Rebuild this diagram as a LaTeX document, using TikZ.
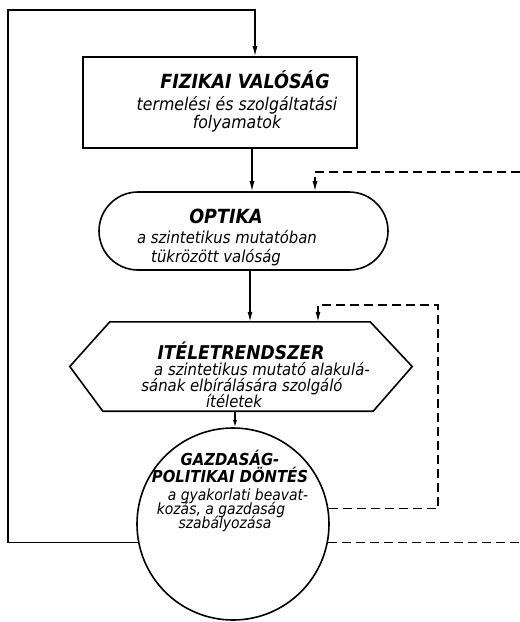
\documentclass[tikz,border=0pt]{standalone}
\usepackage{fontspec}
\setmainfont{DejaVu Sans Condensed}
\usetikzlibrary{arrows.meta,shapes.misc}
\begin{document}
\begin{tikzpicture}[x=1pt,y=-1pt,
  frame/.style={draw,line width=1.6pt,inner sep=0pt},
  conn/.style={line width=1.2pt},
  arr/.style={conn,-{Latex[length=10pt,width=5pt]}},
  sarr/.style={conn,-{Latex[length=7pt,width=4pt]}},
  dsh/.style={dash pattern=on 9pt off 5pt},
  ttl/.style={font=\bfseries\itshape\fontsize{#1}{#1}\selectfont,anchor=base,inner sep=0pt,text depth=0pt},
  sub/.style={font=\itshape\fontsize{#1}{#1}\selectfont,anchor=base,inner sep=0pt}]
\useasboundingbox (0,0) rectangle (520,622);

% shapes
\node[frame,minimum width=274pt,minimum height=91pt] (box) at (220,102.5) {};
\node[frame,rounded rectangle,minimum width=289pt,minimum height=78pt] (opt) at (243.5,231) {};
\node[inner sep=0pt,minimum width=342pt,minimum height=89pt] (hex) at (241,366.5) {};
\draw[line width=1.6pt,line join=miter]
  ([xshift=40pt]hex.north west) -- ([xshift=-42pt]hex.north east) -- (hex.east)
  -- ([xshift=-39pt]hex.south east) -- ([xshift=33pt]hex.south west) -- (hex.west) -- cycle;
\node[frame,circle,minimum size=192pt] (circ) at (233,524) {};

% helper coordinates
\coordinate (x1) at (252,0);
\coordinate (x2) at (250,0);
\coordinate (x3) at (235,0);
\coordinate (xtop) at (255,0);
\coordinate (lc) at (8,10);
\coordinate (rc1) at (526,172);
\coordinate (xo) at (315,0);
\coordinate (rc2) at (438,305);
\coordinate (xh) at (318,0);

% connectors
\draw[arr] (box.south -| x1) -- (opt.north -| x1);
\draw[arr] (opt.south -| x2) -- (hex.north -| x2);
\draw[sarr] (hex.south -| x3) -- (circ.north -| x3);
\draw[arr] (circ.191.5) -| (lc) -| (box.north -| xtop);
\draw[arr,dsh] (circ.-11.5) -| (rc1) -| (opt.north -| xo);
\draw[arr,dsh] (circ.9.6) -| (rc2) -| (hex.north -| xh);

% texts
\node[ttl=19.5] (t1) at (245,88) {FIZIKAI VALÓSÁG};
\node[sub=17.5] (t1b) at (237,110) {termelési és szolgáltatási};
\node[sub=17.5] (t1c) at (237,128) {folyamatok};

\node[ttl=19.5] (t2) at (226,223) {OPTIKA};
\node[sub=16.5] (t2b) at (227,243) {a szintetikus mutatóban};
\node[sub=16.5] (t2c) at (216,262) {tükrözött valóság};

\node[ttl=19] (t3) at (241,359) {ITÉLETRENDSZER};
\node[sub=16.5] (t3b) at (262,375) {a szintetikus mutató alakulá-};
\node[sub=16.5] (t3c) at (242,391) {sának elbírálására szolgáló};
\node[sub=16.5] (t3d) at (234,407) {ítéletek};

\node[ttl=16.5] (t4) at (230,465) {GAZDASÁG-};
\node[ttl=16.5] (t4b) at (230,482) {POLITIKAI DÖNTÉS};
\node[sub=15.5] (t4c) at (238,500) {a gyakorlati beavat-};
\node[sub=15.5] (t4d) at (221,514) {kozás, a gazdaság};
\node[sub=15.5] (t4e) at (225,528) {szabályozása};
\end{tikzpicture}
\end{document}
